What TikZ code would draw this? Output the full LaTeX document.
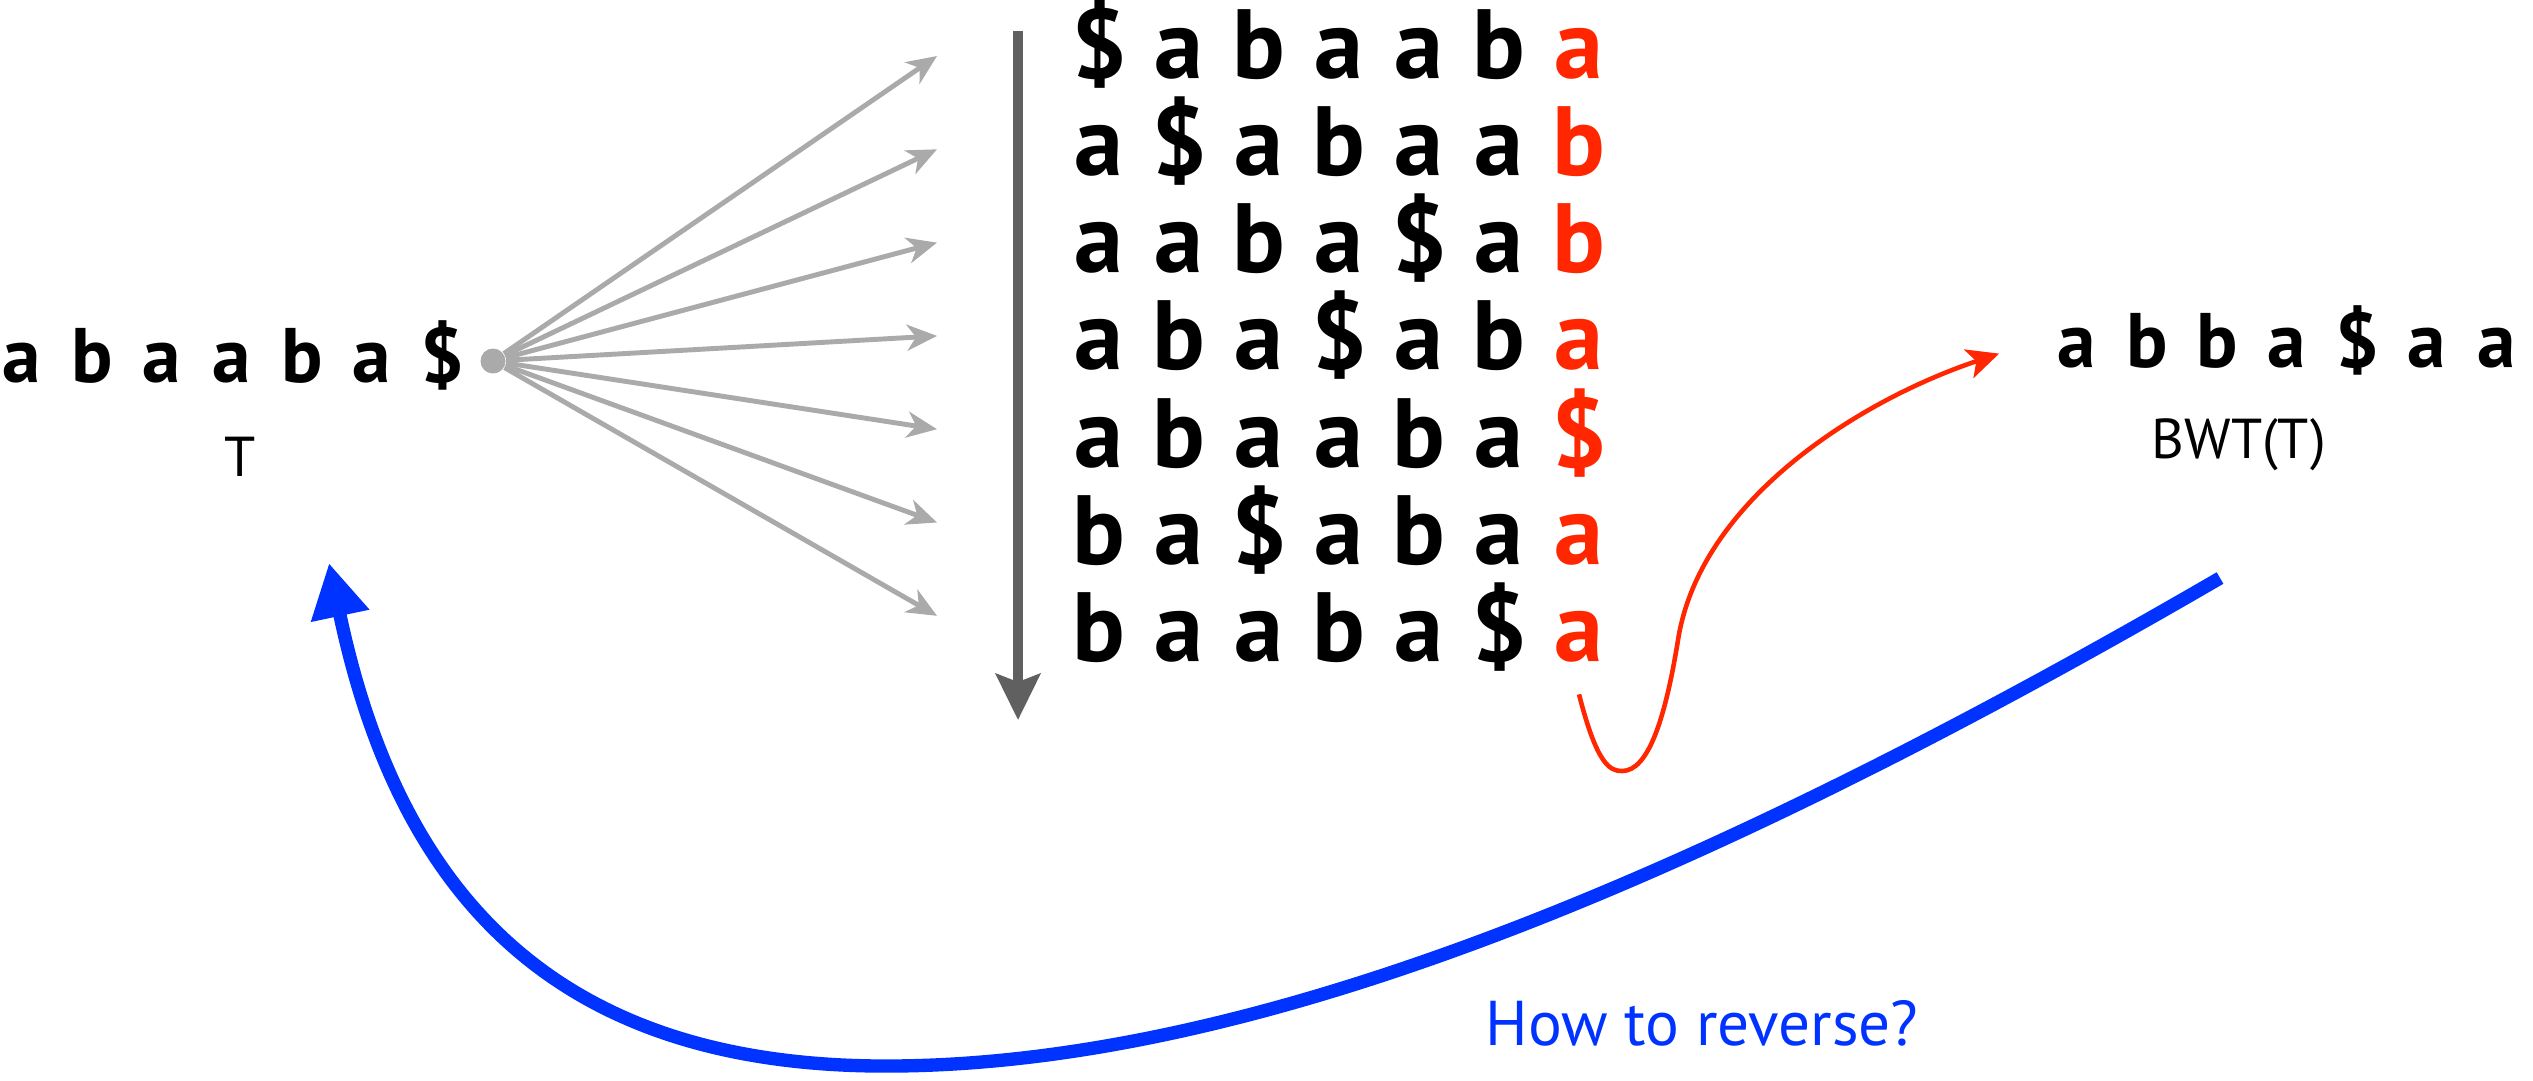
\documentclass[tikz,border=0pt]{standalone}
\usepackage{fontspec}
\setmainfont{PT Sans}
\usetikzlibrary{arrows.meta,positioning}
\definecolor{fangray}{RGB}{170,170,170}
\definecolor{sortgray}{RGB}{96,96,96}
\definecolor{bwtred}{RGB}{255,38,0}
\definecolor{revblue}{RGB}{0,51,255}

\begin{document}
\begin{tikzpicture}[x=0.1mm, y=0.1mm,
    mchar/.style={inner sep=0pt, anchor=base, font=\fontsize{28}{32}\selectfont\bfseries},
    tchar/.style={inner sep=0pt, anchor=base, font=\fontsize{22}{26}\selectfont\bfseries},
    lab/.style={inner sep=0pt, font=\fontsize{16}{19}\selectfont},
    fan/.style={draw=fangray, line width=1.4pt, -{Stealth[length=3mm, width=2.6mm, inset=0.9mm]}},
    sortarrow/.style={draw=sortgray, line width=3.1pt, -{Stealth[length=4.6mm, width=4.4mm, inset=0.8mm]}},
    bwtlink/.style={draw=bwtred, line width=1.3pt, -{Stealth[length=3.2mm, width=3mm, inset=0.8mm]}},
    revarrow/.style={draw=revblue, line width=3.8pt, -{Triangle[length=5.4mm, width=5.6mm]}}]
    \useasboundingbox (0,0) rectangle (2533,-1080);

    \foreach \c [count=\i] in {a,b,a,a,b,a,\$}
        \node (t\i) [tchar] at ({22+70*(\i-1)},-382) {\c};
    \node (tlab) [lab] at (240,-457) {T};
    \node (dot) [circle, fill=fangray, inner sep=0pt, minimum size=2.5mm] at (493,-361) {};

    \foreach \row [count=\j] in {{\$,a,b,a,a,b,a},{a,\$,a,b,a,a,b},{a,a,b,a,\$,a,b},{a,b,a,\$,a,b,a},{a,b,a,a,b,a,\$},{b,a,\$,a,b,a,a},{b,a,a,b,a,\$,a}} {
        \foreach \c [count=\i] in \row {
            \ifnum\i=7 \def\chcol{bwtred}\else\def\chcol{black}\fi
            \node (m\j\i) [mchar, text=\chcol] at ({1099+80*(\i-1)},{-78-97.3*(\j-1)}) {\c};
        }
        \coordinate (tip\j) at (937,{-56-93.3*(\j-1)});
        \draw [fan] (dot) -- (tip\j);
    }

    \coordinate (vtop) at (1018,-31);
    \coordinate (vbot) at (1018,-720);
    \draw [sortarrow] (vtop) -- (vbot);

    \foreach \c [count=\i] in {a,b,b,a,\$,a,a}
        \node (w\i) [tchar] at ({2077+70*(\i-1)},-367) {\c};
    \node (bwtlab) [lab] at (2239,-445) {BWT(T)};

    \coordinate (rlow) at (1622,-771);
    \coordinate (rmid) at (1678,-640);
    \draw [bwtlink] ([yshift=-3.1mm]m77.south) .. controls (1597,-765) and (1610,-771) .. (rlow)
        .. controls (1648,-771) and (1665,-720) .. (rmid)
        .. controls (1700,-500) and (1860,-400) .. ([xshift=-5.8mm, yshift=-0.6mm]w1.west);

    \coordinate (revstart) at (2220,-578);
    \coordinate (revlow) at (880,-1066);
    \coordinate (revend) at (329,-563);
    \draw [revarrow] (revstart) .. controls (1700,-880) and (1250,-1068) .. (revlow)
        .. controls (560,-1064) and (400,-900) .. (revend);
    \node (rev) [anchor=base west, inner sep=0pt, text=revblue, font=\fontsize{18}{22}\selectfont] at (1485,-1045) {How to reverse?};
\end{tikzpicture}
\end{document}
